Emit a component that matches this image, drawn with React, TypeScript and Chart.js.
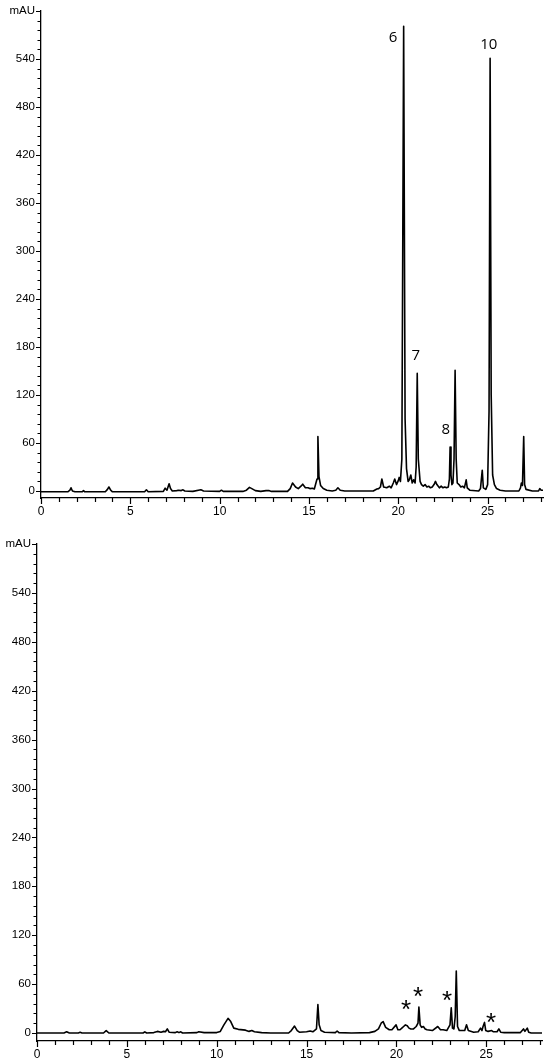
import React, { useEffect, useRef } from 'react';
import { Chart, registerables } from 'chart.js';

Chart.register(...registerables);

// ---------- axes ----------
const X_MAJOR_TICKS = [0, 5, 10, 15, 20, 25];
const X_MINOR_TICKS = [1, 2, 3, 4, 6, 7, 8, 9, 11, 12, 13, 14, 16, 17, 18, 19, 21, 22, 23, 24, 26, 27, 28];
const Y_MAJOR_TICKS = [0, 60, 120, 180, 240, 300, 360, 420, 480, 540];
const Y_MINOR_STEP = 12;
const Y_UNIT_VALUE = 600;
const Y_UNIT_LABEL = 'mAU';

// ---------- top chromatogram ----------
const TOP_TIME = [
  0, 1.5, 1.62, 1.68, 1.76, 1.9, 2.3, 2.38, 2.45, 3.6, 3.72, 3.8, 3.9, 4.0,
  5.8, 5.9, 6.0, 6.85, 6.95, 7.05, 7.17, 7.25, 7.35, 7.6, 7.7, 7.85, 7.95, 8.05,
  8.5, 8.95, 9.1, 10.0, 10.1, 10.2, 11.3, 11.5, 11.67, 11.8, 12.0, 12.3, 12.6, 12.75, 12.9,
  13.8, 13.95, 14.08, 14.25, 14.4, 14.55, 14.65, 14.8, 14.95, 15.05, 15.2, 15.3,
  15.45, 15.5, 15.56, 15.65, 15.8, 16.0, 16.3, 16.5, 16.62, 16.75, 17.0,
  18.6, 18.8, 18.9, 19.0, 19.08, 19.18, 19.35, 19.5, 19.6, 19.72, 19.8, 19.9, 20.0, 20.05, 20.12,
  20.2, 20.3, 20.38, 20.46, 20.55, 20.62, 20.7, 20.78, 20.86, 20.94,
  21.0, 21.06, 21.12, 21.22, 21.3, 21.4, 21.5, 21.6, 21.7, 21.8, 21.9, 22.0, 22.08, 22.16,
  22.3, 22.4, 22.5, 22.6, 22.7, 22.8, 22.86, 22.9, 22.95, 23.0, 23.06, 23.12, 23.18, 23.24,
  23.3, 23.4, 23.5, 23.6, 23.7, 23.8, 23.86, 24.0, 24.5, 24.6, 24.7, 24.76, 24.9,
  25.0, 25.08, 25.14, 25.2, 25.28, 25.38, 25.5, 25.7, 26.0, 26.75, 26.84, 26.89, 26.95, 27.02, 27.07,
  27.15, 27.5, 27.85, 27.92, 28.0, 28.1,
];
const TOP_MAU = [
  -1, -1, 1, 4, 0, -1, -1, 0.5, -1, -1, 2, 5, 1, -1,
  -1, 1.5, -1, -0.5, 3.5, 1, 9, 3, 0, 0.5, 1, 0.5, 1.5, 0,
  -0.5, 1.5, 0, -0.5, 1, -0.5, -0.5, 1, 4.5, 3, 0.5, -0.5, 0.5, 0.5, -0.5,
  -0.5, 3, 10, 5, 3, 6, 8.5, 4, 4, 3, 3.5, 2.5,
  15, 68, 18, 7, 3, 1, 0, 1, 4, 1, 0,
  0, 2.5, 3, 5, 15, 5, 4, 6, 4, 10, 15, 8, 13, 17, 12,
  40, 581, 90, 28, 12, 14, 20, 10, 14, 10,
  30, 147, 40, 12, 8, 6, 8, 5, 6, 4, 5, 8, 12, 8,
  4, 6, 4, 5, 4, 5, 15, 55, 20, 8, 10, 40, 151, 40,
  10, 8, 5, 6, 4, 14, 4, 1, 0, 3, 26, 4, 2,
  8, 100, 541, 120, 20, 8, 3, 1, 0, 0, 4, 10, 7, 68, 8,
  2, 0, 0, 3, 1, 1,
];
const TOP_PEAK_LABELS = ['6', '7', '8', '10'];
const TOP_PEAK_LABEL_TIME = [19.7, 20.98, 22.66, 25.07];
const TOP_PEAK_LABEL_MAU = [567, 170, 77, 559];

// ---------- bottom chromatogram ----------
const BOTTOM_TIME = [
  0, 1.5, 1.65, 1.8, 2.3, 2.4, 2.5, 3.7, 3.85, 4.0, 5.9, 6.0, 6.1,
  6.5, 6.7, 6.9, 7.05, 7.15, 7.25, 7.35, 7.7, 7.8, 7.9, 8.0, 8.1, 8.9, 9.0, 9.3,
  10.0, 10.2, 10.4, 10.63, 10.78, 10.95, 11.2, 11.6, 11.8, 11.95, 12.1, 12.5, 13.0,
  14.0, 14.15, 14.33, 14.48, 14.6, 15.0, 15.2, 15.35, 15.55, 15.63, 15.7, 15.8, 16.0,
  16.6, 16.7, 16.8, 17.5, 18.5, 18.8, 19.0, 19.15, 19.26, 19.4, 19.6, 19.75, 19.98, 20.08,
  20.2, 20.3, 20.4, 20.5, 20.6, 20.7, 20.8, 20.95, 21.1, 21.2, 21.25, 21.32, 21.4, 21.5, 21.6, 21.7,
  22.0, 22.3, 22.45, 22.6, 22.8, 22.98, 23.05, 23.12, 23.2, 23.27, 23.33, 23.4, 23.5,
  23.8, 23.9, 24.0, 24.3, 24.55, 24.68, 24.76, 24.82, 24.9, 24.97, 25.1, 25.3, 25.4,
  25.6, 25.7, 25.8, 26.0, 26.9, 27.07, 27.15, 27.28, 27.36, 27.5, 28.1,
];
const BOTTOM_MAU = [
  0, 0, 1.5, 0, 0, 0.8, 0, 0, 3, 0, 0, 1.5, 0,
  0.5, 2, 1, 2, 1.5, 5, 1, 0.5, 1.5, 0.5, 1.5, 0, 0.5, 1.5, 0.5,
  0.5, 2, 10, 18, 14, 6, 4.5, 3.5, 2, 3, 1.5, 0.5, 0,
  0, 3, 8.5, 3, 1, 1.5, 2.5, 1.5, 5, 35, 10, 3, 1,
  0.5, 2.5, 0.5, 0, 0.5, 2, 5, 12, 14, 7, 4, 4, 10, 4,
  4, 6, 8, 10, 9, 6, 5, 5, 8, 12, 32, 10, 7, 8, 5, 4,
  3, 8, 4, 4, 3, 10, 31, 6, 5, 20, 76, 8, 3,
  3, 10, 3, 1, 1.5, 6, 3, 8, 13, 3, 2, 3, 1.5,
  1.5, 5, 1, 0.5, 0.5, 5, 2, 6, 1, 0, 0,
];
const BOTTOM_MARK_LABEL = '*';
const BOTTOM_MARK_TIME = [20.54, 21.2, 22.82, 25.27];
const BOTTOM_MARK_MAU = [34, 50, 46, 18];

type Mark = { text: string; t: number; v: number; font: string };

type Layout = {
  width: number;
  height: number;
  yAxisWidth: number;
  xAxisHeight: number;
  padTop: number;
  padRight: number;
  yMin: number;
};

const TICK_FONT = '"Liberation Sans", Arial, Helvetica, sans-serif';

function buildYTicks(): number[] {
  const out: number[] = [];
  for (let v = 0; v <= Y_UNIT_VALUE; v += Y_MINOR_STEP) out.push(v);
  return out;
}

function ChromChart(props: { time: number[]; mau: number[]; layout: Layout; marks: Mark[] }) {
  const ref = useRef<HTMLCanvasElement | null>(null);
  const { time, mau, layout, marks } = props;

  useEffect(() => {
    if (!ref.current) return;
    const points = time.map((t, i) => ({ x: t, y: mau[i] }));
    const yTicks = buildYTicks();
    const xTicks = [...X_MAJOR_TICKS, ...X_MINOR_TICKS].sort((a, b) => a - b);

    const axisPlugin = {
      id: 'axisTicksAndMarks',
      afterDraw(chart: any) {
        const ctx = chart.ctx as CanvasRenderingContext2D;
        const xs = chart.scales.x;
        const ys = chart.scales.y;
        const area = chart.chartArea;
        ctx.save();
        ctx.strokeStyle = '#000';
        ctx.lineWidth = 1.2;
        ctx.beginPath();
        for (const v of yTicks) {
          const py = Math.round(ys.getPixelForValue(v)) + 0.5;
          const major = Y_MAJOR_TICKS.includes(v) || v === Y_UNIT_VALUE;
          const len = major ? 5 : 3.5;
          ctx.moveTo(area.left - len, py);
          ctx.lineTo(area.left, py);
        }
        for (const v of xTicks) {
          const px = Math.round(xs.getPixelForValue(v)) + 0.5;
          const major = X_MAJOR_TICKS.includes(v);
          const len = major ? 6 : 4;
          ctx.moveTo(px, area.bottom);
          ctx.lineTo(px, area.bottom + len);
        }
        ctx.stroke();

        ctx.fillStyle = '#000';
        ctx.textAlign = 'center';
        ctx.textBaseline = 'alphabetic';
        for (const m of marks) {
          ctx.font = m.font;
          const mt = ctx.measureText(m.text);
          const asc = mt.actualBoundingBoxAscent;
          const desc = mt.actualBoundingBoxDescent;
          const cx = xs.getPixelForValue(m.t);
          const cy = ys.getPixelForValue(m.v);
          ctx.fillText(m.text, cx, cy + (asc - desc) / 2);
        }
        ctx.restore();
      },
    };

    const chart = new Chart(ref.current, {
      type: 'line',
      data: {
        datasets: [
          {
            data: points,
            borderColor: '#000',
            borderWidth: 1.6,
            pointRadius: 0,
            tension: 0,
            fill: false,
            borderJoinStyle: 'round',
          },
        ],
      },
      options: {
        responsive: false,
        animation: false,
        devicePixelRatio: 1,
        layout: {
          padding: { top: layout.padTop, right: layout.padRight, left: 0, bottom: 0 },
        },
        plugins: {
          legend: { display: false },
          tooltip: { enabled: false },
        },
        scales: {
          x: {
            type: 'linear',
            min: 0,
            max: 28.1,
            grid: { display: false, drawTicks: true, tickLength: 5 },
            border: { display: true, color: '#000', width: 1.3 },
            ticks: {
              autoSkip: false,
              maxRotation: 0,
              padding: 1,
              color: '#000',
              font: { family: TICK_FONT, size: 12 },
              callback: (v: any) => (X_MAJOR_TICKS.includes(Number(v)) ? String(v) : ''),
            },
            afterBuildTicks: (s: any) => {
              s.ticks = xTicks.map((v) => ({ value: v }));
            },
            afterFit: (s: any) => {
              s.height = layout.xAxisHeight;
            },
          },
          y: {
            type: 'linear',
            min: layout.yMin,
            max: Y_UNIT_VALUE,
            grid: { display: false, drawTicks: true, tickLength: 4 },
            border: { display: true, color: '#000', width: 1.3 },
            ticks: {
              autoSkip: false,
              padding: 2,
              color: '#000',
              font: { family: TICK_FONT, size: 11.5 },
              callback: (v: any) => {
                const n = Number(v);
                if (n === Y_UNIT_VALUE) return Y_UNIT_LABEL;
                return Y_MAJOR_TICKS.includes(n) ? String(n) : '';
              },
            },
            afterBuildTicks: (s: any) => {
              s.ticks = yTicks.map((v) => ({ value: v }));
            },
            afterFit: (s: any) => {
              s.width = layout.yAxisWidth;
            },
          },
        },
      },
      plugins: [axisPlugin],
    } as any);
    return () => chart.destroy();
  }, [time, mau, layout, marks]);

  return (
    <canvas
      ref={ref}
      width={layout.width}
      height={layout.height}
      style={{ display: 'block', width: layout.width, height: layout.height }}
    />
  );
}

const PEAK_FONT = '15px "Open Sans", "Noto Sans", sans-serif';
const STAR_FONT = '26px "Liberation Sans", Arial, sans-serif';

const TOP_MARKS: Mark[] = TOP_PEAK_LABELS.map((text, i) => ({
  text,
  t: TOP_PEAK_LABEL_TIME[i],
  v: TOP_PEAK_LABEL_MAU[i],
  font: PEAK_FONT,
}));
const BOTTOM_MARKS: Mark[] = BOTTOM_MARK_TIME.map((t, i) => ({
  text: BOTTOM_MARK_LABEL,
  t,
  v: BOTTOM_MARK_MAU[i],
  font: STAR_FONT,
}));

const TOP_LAYOUT: Layout = {
  width: 550,
  height: 532,
  yAxisWidth: 41,
  xAxisHeight: 34,
  padTop: 11,
  padRight: 7,
  yMin: -8.75,
};
const BOTTOM_LAYOUT: Layout = {
  width: 550,
  height: 532,
  yAxisWidth: 37,
  xAxisHeight: 23,
  padTop: 12,
  padRight: 8,
  yMin: -9.8,
};

export default function App() {
  return (
    <div style={{ position: 'absolute', left: 0, top: 0, width: 550, height: 1064, background: '#fff' }}>
      <ChromChart time={TOP_TIME} mau={TOP_MAU} layout={TOP_LAYOUT} marks={TOP_MARKS} />
      <ChromChart time={BOTTOM_TIME} mau={BOTTOM_MAU} layout={BOTTOM_LAYOUT} marks={BOTTOM_MARKS} />
    </div>
  );
}
